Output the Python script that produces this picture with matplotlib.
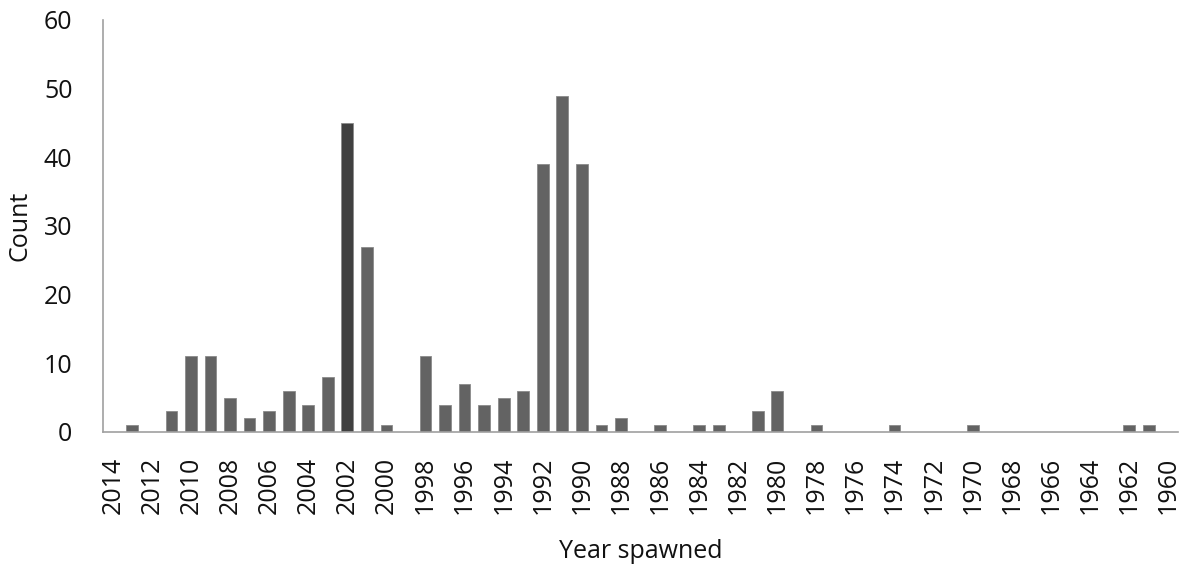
import matplotlib
matplotlib.use("Agg")
import matplotlib.pyplot as plt

# Count of fish by year spawned
years = list(range(2014, 1959, -1))
counts = [
    0, 1, 0, 3, 11, 11, 5, 2, 3, 6,      # 2014-2005
    4, 8, 45, 27, 1, 0, 11, 4, 7, 4,     # 2004-1995
    5, 6, 39, 49, 39, 1, 2, 0, 1, 0,     # 1994-1985
    1, 1, 0, 3, 6, 0, 1, 0, 0, 0,        # 1984-1975
    1, 0, 0, 0, 1, 0, 0, 0, 0, 0,        # 1974-1965
    0, 0, 1, 1, 0,                       # 1964-1960
]
highlight_year = 2002
tick_years = list(range(2014, 1959, -2))

plt.rcParams["font.family"] = ["Open Sans", "DejaVu Sans"]

fig = plt.figure(figsize=(11.88, 5.69), dpi=100)
ax = fig.add_axes([0.0867, 0.2408, 0.9049, 0.7241])

colors = ["#404040" if y == highlight_year else "#636363" for y in years]
ax.bar(years, counts, width=0.6, color=colors, edgecolor="#8a8a8a", linewidth=0.6)

ax.set_xlim(2014.5, 1959.5)
ax.set_ylim(0, 60)
ax.set_yticks(range(0, 61, 10))
ax.set_xticks(tick_years)
ax.set_xticklabels([str(y) for y in tick_years], rotation=90)

ax.tick_params(axis="both", length=0, labelsize=18, colors="#111111")
ax.tick_params(axis="x", pad=18)
ax.tick_params(axis="y", pad=22)

for side in ("top", "right"):
    ax.spines[side].set_visible(False)
for side in ("left", "bottom"):
    ax.spines[side].set_color("#a0a0a0")
    ax.spines[side].set_linewidth(1.2)

ax.set_ylabel("Count", fontsize=18, color="#111111", labelpad=8)
ax.set_xlabel("Year spawned", fontsize=18, color="#111111", labelpad=18)

fig.savefig("out.png", dpi=100)
